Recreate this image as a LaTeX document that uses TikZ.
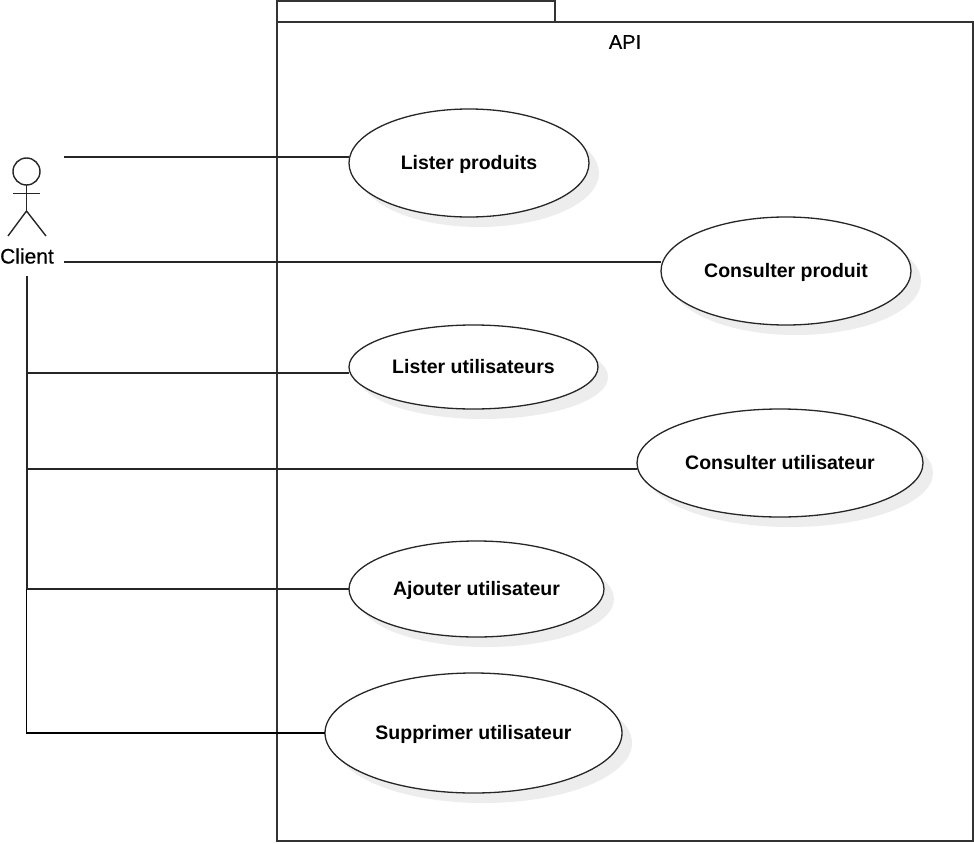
\documentclass[tikz,border=0pt]{standalone}
\usepackage{fontspec}
\setmainfont{Liberation Sans}
\newfontfamily\medfont[FakeBold=0.5]{Liberation Sans}
\usetikzlibrary{shapes.geometric}
\usetikzlibrary{shadows}
\tikzset{
  usecase/.style={ellipse, draw=black!85, line width=1.3pt, fill=white, inner sep=0pt, outer sep=0pt,
    font=\bfseries\fontsize{19.5}{24}\selectfont, text height=16pt, text depth=4pt,
    drop shadow={shadow xshift=10pt, shadow yshift=-10pt, fill=black!7, opacity=1}},
  wire/.style={draw=black!85, line width=1.4pt},
  pkg/.style={draw=black!80, line width=1.4pt, fill=white},
  lbl/.style={font=\medfont\fontsize{20}{24}\selectfont, inner sep=0pt}
}

\begin{document}
\begin{tikzpicture}[x=1pt, y=-1pt]
      \useasboundingbox (0, 0) rectangle (974, 843);

      % package
      \draw [pkg] (277, 1) rectangle (555, 22);
      \draw [pkg] (277, 22) rectangle (973, 841);
      \node [lbl] (api) at (625, 42) {API};

      % actor
      \draw [wire] (26.5, 171.5) circle (13.5);
      \draw [wire] (26.5, 185) -- (26.5, 211);
      \draw [wire] (13, 193.5) -- (40, 193.5);
      \draw [wire] (8, 236) -- (26.5, 211) -- (46, 236);
      \node [lbl, font=\medfont\fontsize{21}{24}\selectfont] (client) at (27, 256) {Client};

      \coordinate (clientA) at (64, 157);
      \coordinate (clientB) at (64, 262);
      \coordinate (clientFoot) at (26.5, 276);

      % use cases
      \node [usecase, minimum width=240, minimum height=108] (listP) at (469, 163) {Lister produits};
      \node [usecase, minimum width=250, minimum height=108] (showP) at (786, 271) {Consulter produit};
      \node [usecase, minimum width=249, minimum height=84] (listU) at (473.5, 367) {Lister utilisateurs};
      \node [usecase, minimum width=286, minimum height=108] (showU) at (780, 463) {Consulter utilisateur};
      \node [usecase, minimum width=255, minimum height=96] (addU) at (476.5, 589) {Ajouter utilisateur};
      \node [usecase, minimum width=297, minimum height=120] (delU) at (473.5, 733) {Supprimer utilisateur};

      % connectors
      \draw [wire] (clientA) -- (clientA -| listP.west);
      \draw [wire] (clientB) -- (clientB -| showP.west);
      \draw [wire] (clientFoot) |- ([yshift=-6pt]listU.west);
      \draw [wire] (clientFoot) |- ([yshift=-6pt]showU.west);
      \draw [wire] (clientFoot) |- (addU.west);
      \draw [wire, draw=black, line width=1.7pt] (clientFoot) |- (delU.west);
      \draw [wire, line width=2pt] (clientFoot) -- (clientFoot |- addU.west);

    \end{tikzpicture}
\end{document}
